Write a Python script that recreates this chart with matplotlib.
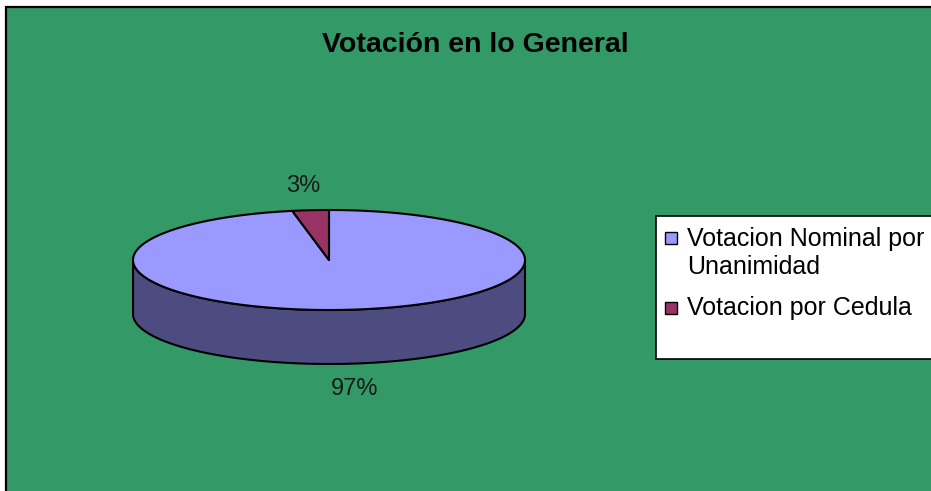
import numpy as np
import matplotlib
matplotlib.use('Agg')
import matplotlib.pyplot as plt
from matplotlib.patches import Polygon, Rectangle

# Data
labels = ['Votacion Nominal por\nUnanimidad', 'Votacion por Cedula']
values = [97, 3]
pct_labels = ['97%', '3%']
top_colors = ['#9999FF', '#993366']
side_colors = ['#4C4C80', '#4D1A33']
title = 'Votación en lo General'

plt.rcParams['font.family'] = ['Liberation Sans', 'DejaVu Sans']

W, H = 931, 491
fig = plt.figure(figsize=(W / 100, H / 100), dpi=100)
ax = fig.add_axes([0, 0, 1, 1])
ax.set_xlim(0, W)
ax.set_ylim(H, 0)
ax.axis('off')

# chart area background
ax.add_patch(Rectangle((6, 6.5), W, H, facecolor='#339966', edgecolor='black', lw=1.6, zorder=0))

ax.text(475, 45, title, ha='center', va='center', fontsize=20.5, fontweight='bold', color='black')

# 3d pie geometry
cx, cy = 329, 260
a, b = 196, 50
depth = 54

def pt(t, dz=0):
    return cx + a * np.cos(t), cy - b * np.sin(t) + dz

# slices go clockwise from 12 o'clock
fracs = np.array(values) / sum(values)
starts = np.pi / 2 - 2 * np.pi * np.concatenate([[0], np.cumsum(fracs)[:-1]])
ends = starts - 2 * np.pi * fracs

# side wall (front half)
for i in range(len(values)):
    s, e = ends[i], starts[i]
    ts = np.linspace(e, s, 400)
    vis = np.sin(ts) <= 0
    if not vis.any():
        continue
    tv = ts[vis]
    top = [pt(t) for t in tv]
    bot = [pt(t, depth) for t in tv[::-1]]
    ax.add_patch(Polygon(top + bot, closed=True, facecolor=side_colors[i],
                         edgecolor='black', lw=1.5, zorder=2, joinstyle='round'))

# top faces
for i in range(len(values)):
    ts = np.linspace(starts[i], ends[i], 300)
    verts = [(cx, cy)] + [pt(t) for t in ts]
    ax.add_patch(Polygon(verts, closed=True, facecolor=top_colors[i],
                         edgecolor='black', lw=1.5, zorder=3, joinstyle='round'))

# percentage labels
for i in range(len(values)):
    mid = (starts[i] + ends[i]) / 2
    x, y = pt(mid)
    x = cx + (x - cx) * 1.4
    if np.sin(mid) < 0:
        y = y + depth + 25
    else:
        y = y - 24
    ax.text(x, y, pct_labels[i], ha='center', va='center', fontsize=17, color='#1a1a1a')

# legend
ax.add_patch(Rectangle((655.5, 215.5), 300, 143.5, facecolor='white', edgecolor='black', lw=1.2, zorder=4))
leg_y = [238, 308]
text_y = [253, 308]
for i in range(len(values)):
    ax.add_patch(Rectangle((665, leg_y[i] - 6), 12, 12, facecolor=top_colors[i],
                           edgecolor='black', lw=1.0, zorder=5))
    ax.text(687, text_y[i], labels[i], ha='left', va='center', fontsize=18,
            linespacing=1.2, color='black', zorder=5)

fig.savefig('out.png', dpi=100, facecolor='white')
